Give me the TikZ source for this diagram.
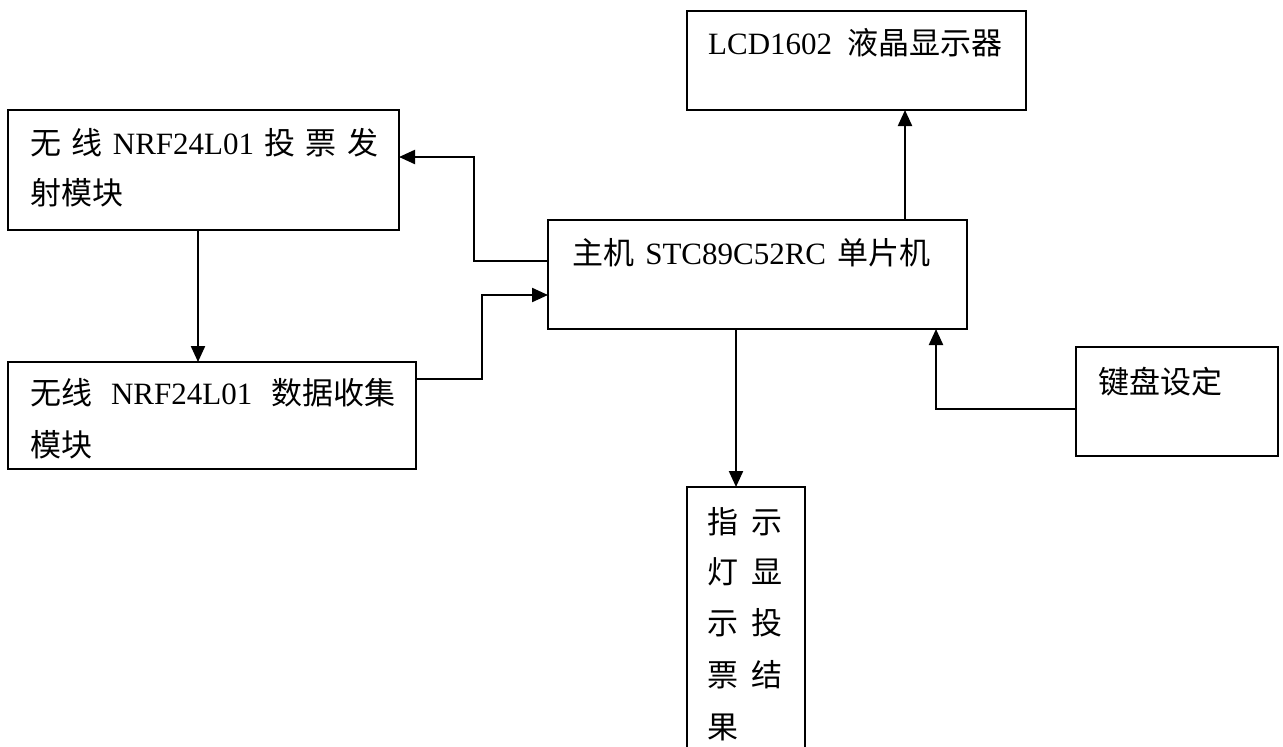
\documentclass[tikz,border=0pt]{standalone}
\usepackage{fontspec}
\setmainfont{Liberation Serif}
\newfontfamily\cjk{Noto Sans CJK SC}
\usetikzlibrary{arrows.meta}
\begin{document}
\begin{tikzpicture}[x=1pt,y=-1pt,
  blk/.style={draw,line width=1.6pt,inner sep=0pt,outer sep=0pt,anchor=north west},
  lbl/.style={anchor=west,inner sep=0pt,text height=26pt,text depth=3pt,font=\fontsize{31}{31}\selectfont},
  vch/.style={anchor=center,inner sep=0pt,text height=26pt,text depth=3pt,font=\cjk\fontsize{31}{31}\selectfont},
  arr/.style={line width=2.2pt,-{Triangle[length=16pt,width=14pt]}},
  lin/.style={line width=2.2pt}]
\useasboundingbox (0,0) rectangle (1283,747);
% boxes
\node[blk,minimum width=391pt,minimum height=120pt] (box1) at (8,110) {};
\node[blk,minimum width=408pt,minimum height=107pt] (box2) at (8,362) {};
\node[blk,minimum width=419pt,minimum height=109pt] (main) at (548,220) {};
\node[blk,minimum width=339pt,minimum height=99pt] (lcd) at (687,11) {};
\node[blk,minimum width=202pt,minimum height=109pt] (kb) at (1076,347) {};
\node[blk,minimum width=118pt,minimum height=280pt] (ind) at (687,487) {};
% texts
\node[lbl] (t1a) at (30,143) {\makebox[348pt][s]{{\cjk 无} {\cjk 线} NRF24L01 {\cjk 投} {\cjk 票} {\cjk 发}}};
\node[lbl] (t1b) at (30,193) {\cjk 射模块};
\node[lbl] (t2a) at (30,393) {\makebox[365pt][s]{{\cjk 无线} NRF24L01 {\cjk 数据收集}}};
\node[lbl] (t2b) at (30,445) {\cjk 模块};
\node[lbl] (tm) at (572,253) {\makebox[358pt][s]{{\cjk 主机} STC89C52RC {\cjk 单片机}}};
\node[lbl] (tl) at (708,43) {\makebox[294pt][s]{LCD1602 {\cjk 液晶显示器}}};
\node[lbl] (tk) at (1098,382) {\cjk 键盘设定};
\node[vch] (c11) at (723,522) {指};
\node[vch] (c12) at (723,572) {灯};
\node[vch] (c13) at (723,623) {示};
\node[vch] (c14) at (723,675) {票};
\node[vch] (c15) at (723,727) {果};
\node[vch] (c21) at (767,522) {示};
\node[vch] (c22) at (767,572) {显};
\node[vch] (c23) at (767,623) {投};
\node[vch] (c24) at (767,675) {结};
% connectors
\draw[arr] ([yshift=13.5pt]main.west) -- ++(-74,0) |- ([yshift=13pt]box1.east);
\draw[arr] ([yshift=36.5pt]box2.east) -- ++(66,0) |- ([yshift=-20.5pt]main.west);
\draw[arr] ([xshift=-5.5pt]box1.south) -- ([xshift=-5.5pt]box1.south |- box2.north);
\draw[arr] ([xshift=147.5pt]main.north) -- ([xshift=147.5pt]main.north |- lcd.south);
\draw[arr] ([xshift=-21.5pt]main.south) -- ([xshift=-21.5pt]main.south |- ind.north);
\draw[arr] ([yshift=-7.5pt]kb.west) -| ([xshift=178.5pt]main.south);
\end{tikzpicture}
\end{document}
